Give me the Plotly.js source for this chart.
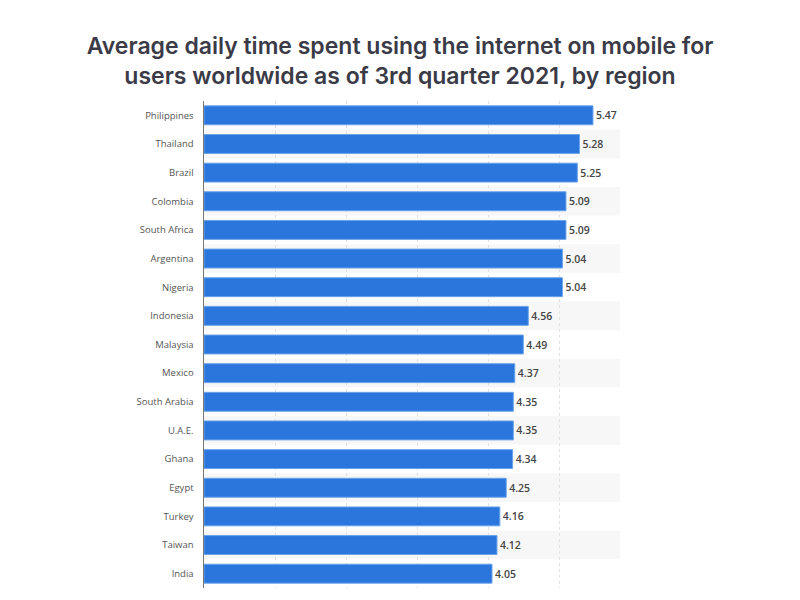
<!DOCTYPE html>
<html>
<head>
<meta charset="utf-8">
<script src="https://cdn.plot.ly/plotly-3.0.1.min.js"></script>
<style>html,body{margin:0;padding:0;background:#fff;}#chart{width:800px;height:600px;}</style>
</head>
<body>
<div id="chart"></div>
<script>
const regions = ["Philippines","Thailand","Brazil","Colombia","South Africa","Argentina","Nigeria","Indonesia","Malaysia","Mexico","South Arabia","U.A.E.","Ghana","Egypt","Turkey","Taiwan","India"];
const hours = [5.47,5.28,5.25,5.09,5.09,5.04,5.04,4.56,4.49,4.37,4.35,4.35,4.34,4.25,4.16,4.12,4.05];
const valueLabels = hours.map(v => v.toFixed(2));

const bands = [];
regions.forEach((r, i) => {
  if (i % 2 === 1) {
    bands.push({type:'rect', xref:'paper', yref:'y', x0:0, x1:1, y0:i-0.5, y1:i+0.5,
      fillcolor:'#f7f7f7', line:{width:0}, layer:'below'});
  }
});

const trace = {
  type:'bar', orientation:'h', x:hours, y:regions,
  marker:{color:'#2a76dc', line:{color:'#6aa3ea', width:1}},
  text:valueLabels, textposition:'outside', cliponaxis:false,
  textfont:{family:'"Open Sans", sans-serif', size:10.5, color:'#444', weight:600},
  hoverinfo:'none'
};

const layout = {
  width:800, height:600,
  margin:{l:204, r:180, t:101, b:12},
  paper_bgcolor:'#fff', plot_bgcolor:'rgba(0,0,0,0)',
  title:{text:'Average daily time spent using the internet on mobile for<br>users worldwide as of 3rd quarter 2021, by region',
    x:0.5, xanchor:'center', y:0.91, yanchor:'top', yref:'container',
    font:{family:'Inter, sans-serif', size:23, color:'#3b3b48', weight:600}},
  bargap:0.34,
  showlegend:false,
  xaxis:{range:[0,5.85], showticklabels:false, showgrid:true, gridcolor:'#e2e2e2', griddash:'dot', dtick:1,
    zeroline:false, showline:false, fixedrange:true},
  yaxis:{type:'category', autorange:'reversed', showline:true, linecolor:'#777', linewidth:1.5,
    showgrid:false, ticks:'', ticklabelstandoff:7,
    tickfont:{family:'"Open Sans", sans-serif', size:9.5, color:'#555'}},
  shapes:bands
};

Plotly.newPlot('chart', [trace], layout, {displayModeBar:false, staticPlot:true});
</script>
</body>
</html>
